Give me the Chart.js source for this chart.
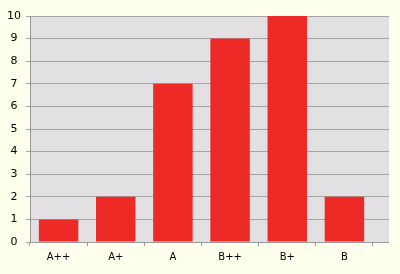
<!DOCTYPE html>
<html>
<head>
<meta charset="utf-8">
<script src="https://cdn.jsdelivr.net/npm/chart.js@4/dist/chart.umd.min.js"></script>
<style>
  html, body { margin: 0; padding: 0; background: #ffffee; }
  #wrap { width: 400px; height: 274px; }
</style>
</head>
<body>
<div id="wrap"><canvas id="gradeChart" width="400" height="274"></canvas></div>
<script>
var grades = ['A++', 'A+', 'A', 'B++', 'B+', 'B'];
var counts = [1, 2, 7, 9, 10, 2];
var yTicks = [0, 1, 2, 3, 4, 5, 6, 7, 8, 9, 10];

var EXTRA = 16; // grey plot runs a bit past the last category

// grey plot area behind the bars (reaches beyond the category axis on the right)
var plotBackground = {
    id: 'plotBackground',
    beforeDraw: function(chart) {
        var a = chart.chartArea;
        var c = chart.ctx;
        c.save();
        c.fillStyle = '#e2e0e2';
        c.fillRect(a.left, a.top, a.right - a.left + EXTRA, a.bottom - a.top);
        c.restore();
    },
    afterDraw: function(chart) {
        // carry grid lines and the bottom axis line into the extra strip
        var a = chart.chartArea;
        var y = chart.scales.y;
        var c = chart.ctx;
        c.save();
        c.lineWidth = 1;
        yTicks.forEach(function(v) {
            var py = Math.round(y.getPixelForValue(v) - 0.5) + 0.5;
            c.strokeStyle = v === 0 ? '#999999' : '#a4a4a4';
            c.beginPath();
            c.moveTo(a.right, py);
            c.lineTo(a.right + EXTRA, py);
            c.stroke();
        });
        c.restore();
    }
};

var ctx = document.getElementById('gradeChart').getContext('2d');
var chart = new Chart(ctx, {
    type: 'bar',
    data: {
        labels: grades,
        datasets: [{
            data: counts,
            backgroundColor: '#ee2a26',
            borderWidth: 0,
            barPercentage: 1,
            categoryPercentage: 0.69
        }]
    },
    options: {
        responsive: false,
        animation: false,
        layout: { padding: { top: 16, right: 27, left: 0, bottom: 0 } },
        plugins: {
            legend: { display: false },
            tooltip: { enabled: false }
        },
        scales: {
            x: {
                afterFit: function(s) { s.height = 32; },
                grid: {
                    offset: true,
                    drawOnChartArea: false,
                    drawTicks: true,
                    tickLength: 4,
                    color: '#999999'
                },
                border: { color: '#999999', width: 1 },
                ticks: {
                    color: '#000',
                    padding: 5,
                    font: { family: 'DejaVu Sans', size: 10 }
                }
            },
            y: {
                min: 0,
                max: 10,
                afterFit: function(s) { s.width = 30; },
                afterBuildTicks: function(s) {
                    s.ticks = yTicks.map(function(v) { return { value: v }; });
                },
                grid: {
                    color: '#a4a4a4',
                    tickLength: 4
                },
                border: { color: '#999999', width: 1 },
                ticks: {
                    color: '#000',
                    padding: 5,
                    crossAlign: 'center',
                    font: { family: 'DejaVu Sans', size: 11 }
                }
            }
        }
    },
    plugins: [plotBackground]
});
</script>
</body>
</html>
